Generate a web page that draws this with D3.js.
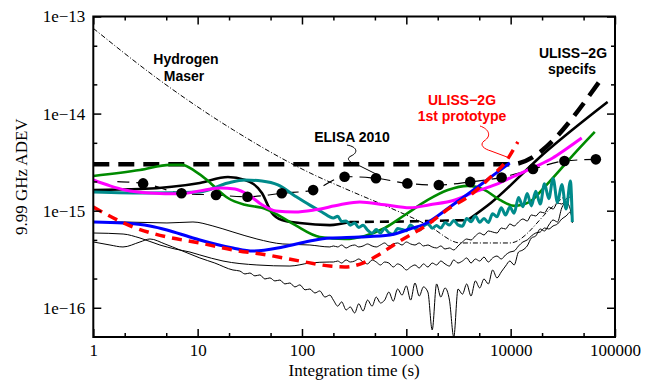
<!DOCTYPE html>
<html><head><meta charset="utf-8">
<script src="https://cdn.jsdelivr.net/npm/d3@7"></script>
<style>body{margin:0;background:#fff}svg{display:block}</style>
</head><body><svg id="c" width="657" height="381"></svg>
<script>
// ---------------- data ----------------
const xTickValues = [1, 10, 100, 1000, 10000, 100000];
const xTickLabels = ["1", "10", "100", "1000", "10000", "100000"];
const xMinorTicks = [2, 5, 20, 50, 200, 500, 2000, 5000, 20000, 50000];
const yTickValues = [1e-16, 1e-15, 1e-14, 1e-13];
const yTickLabels = ["1e\u221216", "1e\u221215", "1e\u221214", "1e\u221213"];
const yMinorTicks = [2e-16, 5e-16, 2e-15, 5e-15, 2e-14, 5e-14];

const maserT = [1, 4.3, 22, 120, 290, 700, 1600, 3300, 9800, 25000, 33000];
const maserS = [7.55e-14, 2.22e-14, 6.78e-15, 2.44e-15, 1.6e-15, 1.07e-15, 7.1e-16, 4.65e-16, 4.65e-16, 1.09e-15, 1.42e-15];

const specT = [1, 10000, 70000];
const specS = [3e-15, 3e-15, 2.1e-14];

const blackT = [1, 2.8, 10.5, 19.5, 28.4, 41.3, 51.5, 64.2, 95, 185, 288];
const blackS = [1.63e-15, 1.67e-15, 1.93e-15, 2.22e-15, 2.07e-15, 1.52e-15, 9.46e-16, 8.0e-16, 7.46e-16, 7.1e-16, 7.64e-16];
const blackDashT = [288, 1440, 3880];
const blackDashS = [7.64e-16, 7.8e-16, 8.0e-16];
const blackRiseT = [3880, 6450, 21100, 84900];
const blackRiseS = [8.0e-16, 1.2e-15, 3.93e-15, 1.32e-14];

const greenT = [1, 2.8, 5.43, 7.07, 9.42, 12.3, 14.6, 19.5, 28.4, 41.3, 58.8, 85.5, 148, 257, 400, 622, 968, 1607, 2500, 3880, 5650, 7870, 10900, 15200, 21100, 29600, 44000, 64000];
const greenS = [2.28e-15, 2.62e-15, 2.96e-15, 2.96e-15, 2.56e-15, 2.07e-15, 1.75e-15, 1.35e-15, 1.15e-15, 1.07e-15, 9.03e-16, 7.13e-16, 5.36e-16, 5.11e-16, 5.49e-16, 6.64e-16, 9.03e-16, 1.29e-15, 1.63e-15, 1.8e-15, 1.63e-15, 1.29e-15, 1.12e-15, 1.23e-15, 1.75e-15, 2.62e-15, 4.22e-15, 6.47e-15];

const magentaT = [1, 1.45, 2.01, 3.49, 6.77, 10.5, 16.4, 22.8, 31.7, 41.3, 56.2, 85.5, 133, 231, 358, 622, 1080, 1680, 2920, 4530, 7040, 10300, 17000, 25300, 33000, 48000];
const magentaS = [2.07e-15, 1.8e-15, 1.63e-15, 1.52e-15, 1.49e-15, 1.6e-15, 1.71e-15, 1.67e-15, 1.42e-15, 1.15e-15, 9.93e-16, 9.7e-16, 1.02e-15, 1.15e-15, 1.23e-15, 1.15e-15, 1.07e-15, 1.15e-15, 1.29e-15, 1.56e-15, 1.84e-15, 2.22e-15, 2.82e-15, 3.49e-15, 4.22e-15, 5.61e-15];

const blueT = [1, 1.93, 3.49, 5.08, 8.4, 10.5, 21.8, 33.9, 65.6, 119, 185, 358, 695, 1080, 1500, 2610, 4530, 7040, 9800];
const blueS = [7.65e-16, 7.47e-16, 6.96e-16, 6.33e-16, 5.36e-16, 4.99e-16, 4.13e-16, 3.84e-16, 4.23e-16, 4.87e-16, 5.23e-16, 5.36e-16, 5.62e-16, 6.48e-16, 7.29e-16, 1.09e-15, 1.67e-15, 2.38e-15, 3.10e-15];

const redT = [1, 2.4, 5.08, 10.5, 21.8, 46.1, 95.5, 185, 257, 383, 499, 811, 1680, 2610, 3880, 6590, 8790, 11700];
const redS = [1.09e-15, 6.79e-16, 5.36e-16, 4.65e-16, 3.94e-16, 3.50e-16, 3.03e-16, 2.69e-16, 2.63e-16, 2.89e-16, 3.33e-16, 4.65e-16, 7.47e-16, 1.07e-15, 1.38e-15, 2.28e-15, 3.10e-15, 5.10e-15];

const elisaLineT = [1.7, 3, 7, 15, 30, 64, 128, 256, 512, 1024, 2048, 4096, 8192, 16384, 32768, 65536];
const elisaLineS = [1.99e-15, 1.91e-15, 1.51e-15, 1.45e-15, 1.39e-15, 1.51e-15, 1.63e-15, 2.24e-15, 2.16e-15, 1.91e-15, 1.84e-15, 1.98e-15, 2.20e-15, 2.69e-15, 3.25e-15, 3.38e-15];
const elisaDotT = [3, 7, 15, 30, 64, 128, 256, 512, 1024, 2048, 4096, 8192, 16384, 32768, 65536];
const elisaDotS = [1.91e-15, 1.51e-15, 1.45e-15, 1.39e-15, 1.51e-15, 1.63e-15, 2.24e-15, 2.16e-15, 1.91e-15, 1.84e-15, 1.98e-15, 2.20e-15, 2.69e-15, 3.25e-15, 3.38e-15];

// sampling times of the noisy long-term records
const gridT = [200, 220, 240, 265, 290, 320, 350, 385, 425, 470, 515, 565, 620, 680, 750, 825, 910, 1000, 1100, 1210, 1330, 1460, 1610, 1770, 1950, 2140, 2350, 2590, 2850, 3130, 3450, 3790, 4170, 4590, 5050, 5550, 6110, 6720, 7390, 8130, 8940, 9830, 10800, 11900, 13100, 14400, 15800, 17400, 19200, 21100, 23200, 25500, 28100, 30900, 34000, 37400, 39000];

const tealLeftT = [1, 3.49, 10.5, 19.5, 28.4, 41.3, 58.8, 85.5, 119, 155];
const tealLeftS = [1.56e-15, 1.52e-15, 1.56e-15, 1.93e-15, 2.07e-15, 2.02e-15, 1.84e-15, 1.42e-15, 1.14e-15, 9.7e-16];
const tealGridS = [8.41e-16, 8.76e-16, 7.74e-16, 7.85e-16, 7.09e-16, 7.47e-16, 6.70e-16, 7.07e-16, 6.31e-16, 5.87e-16, 6.39e-16, 5.88e-16, 6.56e-16, 5.91e-16, 5.71e-16, 6.57e-16, 6.39e-16, 6.22e-16, 7.14e-16, 6.54e-16, 6.28e-16, 6.94e-16, 7.35e-16, 6.61e-16, 7.02e-16, 6.62e-16, 7.54e-16, 7.12e-16, 7.93e-16, 7.14e-16, 6.92e-16, 8.33e-16, 7.70e-16, 8.84e-16, 7.61e-16, 8.33e-16, 7.54e-16, 9.31e-16, 8.65e-16, 1.07e-15, 9.03e-16, 1.09e-15, 9.40e-16, 1.37e-15, 1.10e-15, 1.50e-15, 1.12e-15, 1.59e-15, 1.17e-15, 1.89e-15, 1.33e-15, 2.15e-15, 1.21e-15, 1.86e-15, 1.04e-15, 2.02e-15, 7.65e-16];

const thinALeftT = [1, 1.93, 5.08, 9.02, 14, 21.8, 37, 65.6, 119, 185];
const thinALeftS = [7.65e-16, 7.65e-16, 7.47e-16, 7.65e-16, 6.96e-16, 6.03e-16, 5.11e-16, 4.54e-16, 4.43e-16, 4.23e-16];
const thinAGridS = [4.33e-16, 4.23e-16, 4.43e-16, 4.13e-16, 4.33e-16, 4.43e-16, 4.23e-16, 4.33e-16, 4.54e-16, 4.33e-16, 4.23e-16, 4.43e-16, 4.65e-16, 4.33e-16, 4.54e-16, 4.65e-16, 4.43e-16, 4.76e-16, 4.54e-16, 4.43e-16, 4.65e-16, 4.33e-16, 4.43e-16, 4.23e-16, 4.13e-16, 4.33e-16, 4.03e-16, 4.13e-16, 3.94e-16, 4.33e-16, 4.76e-16, 5.11e-16, 4.99e-16, 5.49e-16, 5.89e-16, 5.62e-16, 6.18e-16, 6.03e-16, 5.89e-16, 6.63e-16, 6.48e-16, 7.29e-16, 6.96e-16, 7.65e-16, 8.21e-16, 7.83e-16, 9.03e-16, 8.82e-16, 9.71e-16, 9.47e-16, 1.09e-15, 1.04e-15, 1.20e-15, 1.17e-15, 1.32e-15, 1.38e-15, 9.71e-16];

const thinBLeftT = [1, 1.93, 2.8, 4.35, 6.06, 8.44, 10.5, 17.5, 37, 76.6, 119, 185];
const thinBLeftS = [5.89e-16, 5.75e-16, 5.23e-16, 4.43e-16, 4.03e-16, 3.75e-16, 3.50e-16, 3.03e-16, 2.76e-16, 2.69e-16, 2.89e-16, 2.96e-16];
const thinBGridS = [2.96e-16, 3.03e-16, 2.89e-16, 3.11e-16, 2.96e-16, 3.03e-16, 3.18e-16, 2.96e-16, 2.83e-16, 3.11e-16, 2.96e-16, 2.76e-16, 2.96e-16, 2.89e-16, 2.63e-16, 2.83e-16, 2.69e-16, 2.45e-16, 2.63e-16, 2.76e-16, 2.57e-16, 2.83e-16, 2.63e-16, 2.89e-16, 2.76e-16, 3.03e-16, 2.83e-16, 2.69e-16, 3.11e-16, 2.89e-16, 3.03e-16, 3.26e-16, 2.89e-16, 3.18e-16, 3.03e-16, 3.33e-16, 2.96e-16, 3.26e-16, 3.41e-16, 3.18e-16, 3.50e-16, 3.75e-16, 3.84e-16, 4.33e-16, 4.76e-16, 4.99e-16, 5.49e-16, 5.89e-16, 6.03e-16, 6.63e-16, 6.48e-16, 6.96e-16, 7.29e-16, 8.21e-16, 8.82e-16, 9.71e-16, 7.47e-16];

const thinCLeftT = [1, 1.445, 1.925, 2.8, 3.49, 4.86, 6.77, 8.44, 10.5, 14.6, 21.8, 25.4, 28.4, 31.7, 35.4, 39.5, 44.1, 49.3, 55, 61.4, 68.6, 76.6, 85.5, 95.5, 107, 119, 133, 148, 166, 185];
const thinCLeftS = [4.76e-16, 4.43e-16, 4.23e-16, 4.76e-16, 5.11e-16, 4.54e-16, 3.94e-16, 3.58e-16, 3.26e-16, 2.89e-16, 2.45e-16, 2.39e-16, 2.23e-16, 2.28e-16, 2.13e-16, 2.18e-16, 1.98e-16, 2.03e-16, 1.89e-16, 1.93e-16, 1.76e-16, 1.80e-16, 1.64e-16, 1.72e-16, 1.53e-16, 1.56e-16, 1.42e-16, 1.49e-16, 1.29e-16, 1.35e-16];
const thinCGridS = [1.20e-16, 1.04e-16, 1.15e-16, 9.49e-17, 1.02e-16, 8.84e-17, 1.10e-16, 9.27e-17, 1.20e-16, 1.04e-16, 1.29e-16, 1.12e-16, 1.20e-16, 1.45e-16, 1.17e-16, 1.56e-16, 1.35e-16, 1.68e-16, 1.20e-16, 1.80e-16, 1.32e-16, 1.64e-16, 1.45e-16, 5.91e-17, 1.76e-16, 1.29e-16, 1.60e-16, 1.20e-16, 5.0e-17, 1.56e-16, 1.38e-16, 1.76e-16, 1.32e-16, 1.89e-16, 1.60e-16, 1.98e-16, 1.76e-16, 2.45e-16, 2.03e-16, 2.34e-16, 2.69e-16, 3.03e-16, 2.76e-16, 3.75e-16, 3.94e-16, 4.33e-16, 5.23e-16, 5.49e-16, 6.48e-16, 6.18e-16, 7.12e-16, 8.02e-16, 7.65e-16, 1.07e-15, 1.23e-15, 1.02e-15, 7.83e-16];

// ---------------- drawing ----------------
const svg = d3.select("#c");
const L = 93.3, R = 615, T = 16.5, B = 337;
const x = d3.scaleLog().domain([1, 1e5]).range([L, R]);
const y = d3.scaleLog().domain([5e-17, 1e-13]).range([B, T]);

svg.append("defs").append("clipPath").attr("id", "clip")
  .append("rect").attr("x", L).attr("y", T).attr("width", R - L).attr("height", B - T);
const plot = svg.append("g").attr("clip-path", "url(#clip)");

function path(Ts, Ss) {
  return d3.line().x((d, i) => x(Ts[i])).y((d, i) => y(Ss[i])).curve(d3.curveMonotoneX)(Ts);
}
function draw(Ts, Ss, color, w, dash) {
  const p = plot.append("path").attr("d", path(Ts, Ss)).attr("fill", "none")
    .attr("stroke", color).attr("stroke-width", w).attr("stroke-linejoin", "round");
  if (dash) p.attr("stroke-dasharray", dash);
  return p;
}

draw(maserT, maserS, "#000", 1, "5,2,1,2");
draw(thinALeftT.concat(gridT), thinALeftS.concat(thinAGridS), "#000", 1);
draw(thinBLeftT.concat(gridT), thinBLeftS.concat(thinBGridS), "#000", 1);
draw(thinCLeftT.concat(gridT), thinCLeftS.concat(thinCGridS), "#000", 1);
draw(specT, specS, "#000", 4.5, "16,9");
draw(elisaLineT, elisaLineS, "#000", 1.2, "12,7");
draw(blackT, blackS, "#000", 2.6);
draw(blackDashT, blackDashS, "#000", 2.6, "9,6");
draw(blackRiseT, blackRiseS, "#000", 2.6);
draw(greenT, greenS, "#008b00", 2.6);
draw(tealLeftT.concat(gridT), tealLeftS.concat(tealGridS), "#008b8b", 3);
draw(magentaT, magentaS, "#ff00ff", 3);
draw(blueT, blueS, "#0000ff", 3);
draw(redT, redS, "#ff0000", 3.5, "10,7");

plot.selectAll("circle.elisa").data(elisaDotT).enter().append("circle")
  .attr("cx", d => x(d)).attr("cy", (d, i) => y(elisaDotS[i])).attr("r", 5.3).attr("fill", "#000");

// annotations
const ann = svg.append("g").attr("font-family", "'Liberation Sans', Arial, sans-serif")
  .attr("font-weight", "bold").attr("font-size", 14).attr("text-anchor", "middle");
ann.append("text").attr("x", 186).attr("y", 64).text("Hydrogen");
ann.append("text").attr("x", 184).attr("y", 81).text("Maser");
ann.append("text").attr("x", 352).attr("y", 142).text("ELISA 2010");
ann.append("text").attr("x", 573).attr("y", 58).text("ULISS\u22122G");
ann.append("text").attr("x", 572).attr("y", 74).text("specifs");
ann.append("text").attr("x", 462).attr("y", 105).attr("fill", "#ff0000").text("ULISS\u22122G");
ann.append("text").attr("x", 462).attr("y", 121).attr("fill", "#ff0000").text("1st prototype");

svg.append("path").attr("d", "M347,145 C358,147 358,153 351,156 C345,159 350,163 360,166 L376,174")
  .attr("fill", "none").attr("stroke", "#000").attr("stroke-width", 1);
svg.append("path").attr("d", "M480,126 C489,129 492,136 484,141 C479,145 484,149 491,151 L507,157")
  .attr("fill", "none").attr("stroke", "#ff0000").attr("stroke-width", 1);

// axes (ticks pointing inward on all four sides)
function styleAxis(g) {
  g.select(".domain").remove();
  g.selectAll(".tick line").attr("stroke", "#000").attr("stroke-width", 1.5);
  g.attr("font-family", "'Liberation Serif', 'Times New Roman', serif").attr("font-size", 17);
  g.selectAll(".tick text").attr("fill", "#000");
}
svg.append("g").attr("transform", `translate(0,${B})`)
  .call(d3.axisBottom(x).tickValues(xTickValues).tickFormat((d, i) => xTickLabels[i]).tickSizeInner(-8).tickSizeOuter(0).tickPadding(7)).call(styleAxis);
svg.append("g").attr("transform", `translate(0,${B})`)
  .call(d3.axisBottom(x).tickValues(xMinorTicks).tickFormat("").tickSizeInner(-4).tickSizeOuter(0)).call(styleAxis);
svg.append("g").attr("transform", `translate(0,${T})`)
  .call(d3.axisTop(x).tickValues(xTickValues).tickFormat("").tickSizeInner(-8).tickSizeOuter(0)).call(styleAxis);
svg.append("g").attr("transform", `translate(0,${T})`)
  .call(d3.axisTop(x).tickValues(xMinorTicks).tickFormat("").tickSizeInner(-4).tickSizeOuter(0)).call(styleAxis);
svg.append("g").attr("transform", `translate(${L},0)`)
  .call(d3.axisLeft(y).tickValues(yTickValues).tickFormat((d, i) => yTickLabels[i]).tickSizeInner(-8).tickSizeOuter(0).tickPadding(8)).call(styleAxis);
svg.append("g").attr("transform", `translate(${L},0)`)
  .call(d3.axisLeft(y).tickValues(yMinorTicks).tickFormat("").tickSizeInner(-4).tickSizeOuter(0)).call(styleAxis);
svg.append("g").attr("transform", `translate(${R},0)`)
  .call(d3.axisRight(y).tickValues(yTickValues).tickFormat("").tickSizeInner(-8).tickSizeOuter(0)).call(styleAxis);
svg.append("g").attr("transform", `translate(${R},0)`)
  .call(d3.axisRight(y).tickValues(yMinorTicks).tickFormat("").tickSizeInner(-4).tickSizeOuter(0)).call(styleAxis);

svg.append("rect").attr("x", L).attr("y", T).attr("width", R - L).attr("height", B - T)
  .attr("fill", "none").attr("stroke", "#000").attr("stroke-width", 2);

// axis titles
svg.append("text").attr("x", (L + R) / 2).attr("y", 376).attr("text-anchor", "middle")
  .attr("font-family", "'Liberation Serif', 'Times New Roman', serif").attr("font-size", 17).text("Integration time (s)");
svg.append("text").attr("transform", `translate(27,${(T + B) / 2}) rotate(-90)`).attr("text-anchor", "middle")
  .attr("font-family", "'Liberation Serif', 'Times New Roman', serif").attr("font-size", 17).text("9.99 GHz ADEV");
</script></body></html>
